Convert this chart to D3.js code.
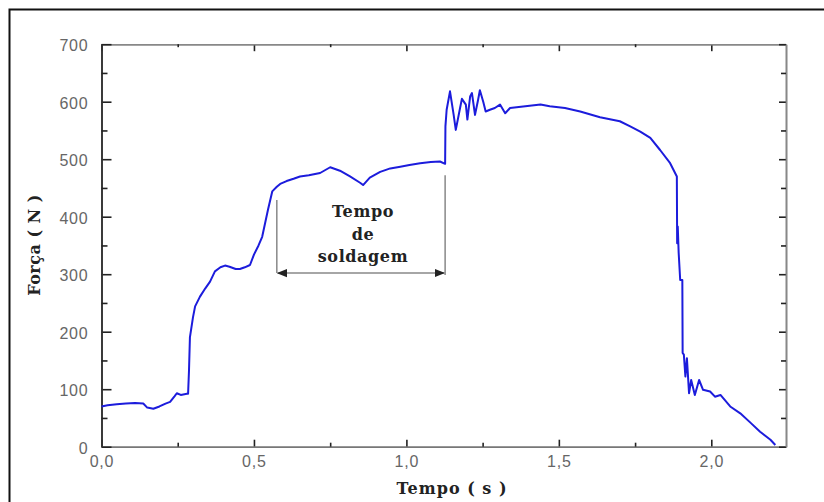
<!DOCTYPE html>
<html>
<head>
<meta charset="utf-8">
<script src="https://cdn.jsdelivr.net/npm/d3@7"></script>
<style>
  body{margin:0;background:#fff;}
  .tick text{font-family:"Liberation Sans",Arial,sans-serif;font-size:16px;fill:#666;letter-spacing:0.8px;}
  .title{font-family:"DejaVu Serif",serif;font-weight:bold;fill:#222;}
</style>
</head>
<body>
<script>
// tempo (s) e força (N)
var tempo=[0,0.02,0.05,0.08,0.11,0.137,0.15,0.17,0.19,0.21,0.225,0.24,0.247,0.26,0.28,0.284,0.287,0.29,0.3,0.307,0.323,0.34,0.356,0.372,0.39,0.405,0.42,0.44,0.454,0.47,0.487,0.5,0.515,0.527,0.546,0.56,0.575,0.586,0.607,0.63,0.651,0.68,0.717,0.75,0.782,0.815,0.848,0.858,0.88,0.914,0.947,0.98,1.01,1.045,1.08,1.11,1.127,1.128,1.132,1.143,1.155,1.162,1.176,1.182,1.195,1.2,1.209,1.215,1.225,1.235,1.241,1.252,1.26,1.274,1.29,1.307,1.324,1.34,1.39,1.44,1.47,1.52,1.57,1.635,1.7,1.734,1.767,1.8,1.832,1.865,1.887,1.888,1.89,1.893,1.898,1.905,1.906,1.91,1.915,1.92,1.927,1.934,1.946,1.96,1.973,1.996,2.012,2.03,2.062,2.095,2.13,2.16,2.194,2.21];
var forca=[70,72,74,75,76,75,68,66,70,75,78,88,93,90,92,92,133,190,225,244,261,275,287,305,312,315,313,309,309,312,316,334,350,365,412,444,452,457,462,466,470,472,476,486,480,470,459,455,468,478,484,487,490,493,495,496,492,557,586,618,577,551,589,605,595,569,609,615,577,603,620,600,583,586,589,595,580,589,592,595,592,589,583,573,566,557,548,537,516,493,470,354,383,337,290,290,163,160,122,154,93,116,90,116,99,96,87,90,70,58,41,26,12,3];

var xMajor=[0,0.5,1.0,1.5,2.0];
var xMinor=[0.25,0.75,1.25,1.75];
var yMajor=[0,100,200,300,400,500,600,700];
var yMinor=[50,150,250,350,450,550,650];

// intervalo "tempo de soldagem"
var soldaInicio=0.575, soldaFim=1.127;
var soldaTopoInicio=429, soldaTopoFim=472, soldaSeta=302;
var soldaTexto=['Tempo','de','soldagem'];

var width=824, height=502;
var margin={left:101.5,top:44.2,right:38,bottom:55.3};
var w=width-margin.left-margin.right;
var h=height-margin.top-margin.bottom;

var svg=d3.select('body').append('svg')
  .attr('width',width)
  .attr('height',height);

svg.append('rect')
  .attr('x',9.5).attr('y',9.5)
  .attr('width',900).attr('height',600)
  .style('fill','none').style('stroke','#111').style('stroke-width',2);

var defs=svg.append('defs');
defs.append('marker').attr('id','seta').attr('viewBox','0 0 10 10')
  .attr('refX',9).attr('refY',5).attr('markerWidth',7).attr('markerHeight',7)
  .attr('orient','auto-start-reverse')
  .append('path').attr('d','M0,1 L10,5 L0,9 z').style('fill','#222');

var g=svg.append('g').attr('transform','translate('+margin.left+','+margin.top+')');

var x=d3.scaleLinear().domain([0,2.245]).range([0,w]);
var y=d3.scaleLinear().domain([0,700]).range([h,0]);

var fmt=function(d){return d3.format('.1f')(d).replace('.',',');};

function styleAxis(sel,color){
  sel.select('.domain').style('stroke',color).style('stroke-width',1.6);
  sel.selectAll('.tick line').style('stroke','#222').style('stroke-width',1.6);
}

// eixo inferior
var bx=g.append('g').attr('transform','translate(0,'+h+')')
  .call(d3.axisBottom(x).tickValues(xMajor).tickSizeInner(-7).tickSizeOuter(0).tickPadding(9).tickFormat(fmt));
styleAxis(bx,'#777');
var bxm=g.append('g').attr('transform','translate(0,'+h+')')
  .call(d3.axisBottom(x).tickValues(xMinor).tickSizeInner(-4).tickSizeOuter(0).tickFormat(''));
styleAxis(bxm,'#777');

// eixo superior
var tx=g.append('g').call(d3.axisTop(x).tickValues(xMajor).tickSizeInner(-7).tickSizeOuter(0).tickFormat(''));
styleAxis(tx,'#888');
var txm=g.append('g').call(d3.axisTop(x).tickValues(xMinor).tickSizeInner(-3).tickSizeOuter(0).tickFormat(''));
styleAxis(txm,'#888');

// eixo esquerdo
var ly=g.append('g').call(d3.axisLeft(y).tickValues(yMajor).tickSizeInner(-10).tickSizeOuter(0).tickPadding(13).tickFormat(d3.format('d')));
styleAxis(ly,'#333');
ly.selectAll('.tick text').attr('dy','0.4em');
var lym=g.append('g').call(d3.axisLeft(y).tickValues(yMinor).tickSizeInner(-6).tickSizeOuter(0).tickFormat(''));
styleAxis(lym,'#333');

// eixo direito
var ry=g.append('g').attr('transform','translate('+w+',0)')
  .call(d3.axisRight(y).tickValues(yMajor).tickSizeInner(-7).tickSizeOuter(0).tickFormat(''));
styleAxis(ry,'#888');
var rym=g.append('g').attr('transform','translate('+w+',0)')
  .call(d3.axisRight(y).tickValues(yMinor).tickSizeInner(-5).tickSizeOuter(0).tickFormat(''));
styleAxis(rym,'#888');

// curva
var dados=tempo.map(function(t,i){return {t:t,f:forca[i]};});
var linha=d3.line().x(function(d){return x(d.t);}).y(function(d){return y(d.f);});
g.append('path').datum(dados)
  .attr('d',linha)
  .style('fill','none').style('stroke','#1c1cdc').style('stroke-width',2)
  .style('stroke-linejoin','round');

// anotação
g.append('line')
  .attr('x1',x(soldaInicio)).attr('x2',x(soldaInicio))
  .attr('y1',y(soldaTopoInicio)).attr('y2',y(soldaSeta))
  .style('stroke','#888').style('stroke-width',1.5);
g.append('line')
  .attr('x1',x(soldaFim)).attr('x2',x(soldaFim))
  .attr('y1',y(soldaTopoFim)).attr('y2',y(soldaSeta)+2)
  .style('stroke','#888').style('stroke-width',1.5);
g.append('line')
  .attr('x1',x(soldaInicio)+1).attr('x2',x(soldaFim)-1)
  .attr('y1',y(soldaSeta)).attr('y2',y(soldaSeta))
  .attr('marker-start','url(#seta)').attr('marker-end','url(#seta)')
  .style('stroke','#888').style('stroke-width',1.5);
g.selectAll('.solda').data(soldaTexto).enter().append('text')
  .attr('class','title')
  .attr('x',(x(soldaInicio)+x(soldaFim))/2+2)
  .attr('y',function(d,i){return 173+i*22.5;})
  .attr('text-anchor','middle')
  .style('font-size','16px')
  .style('letter-spacing','0.6px')
  .text(function(d){return d;});

// títulos dos eixos
svg.append('text').attr('class','title')
  .attr('transform','translate(40,245) rotate(-90)')
  .attr('text-anchor','middle')
  .style('font-size','16px')
  .style('letter-spacing','0.5px')
  .text('Força ( N )');
svg.append('text').attr('class','title')
  .attr('x',452).attr('y',494)
  .attr('text-anchor','middle')
  .style('font-size','16px')
  .style('letter-spacing','1px')
  .text('Tempo ( s )');
</script>
</body>
</html>
